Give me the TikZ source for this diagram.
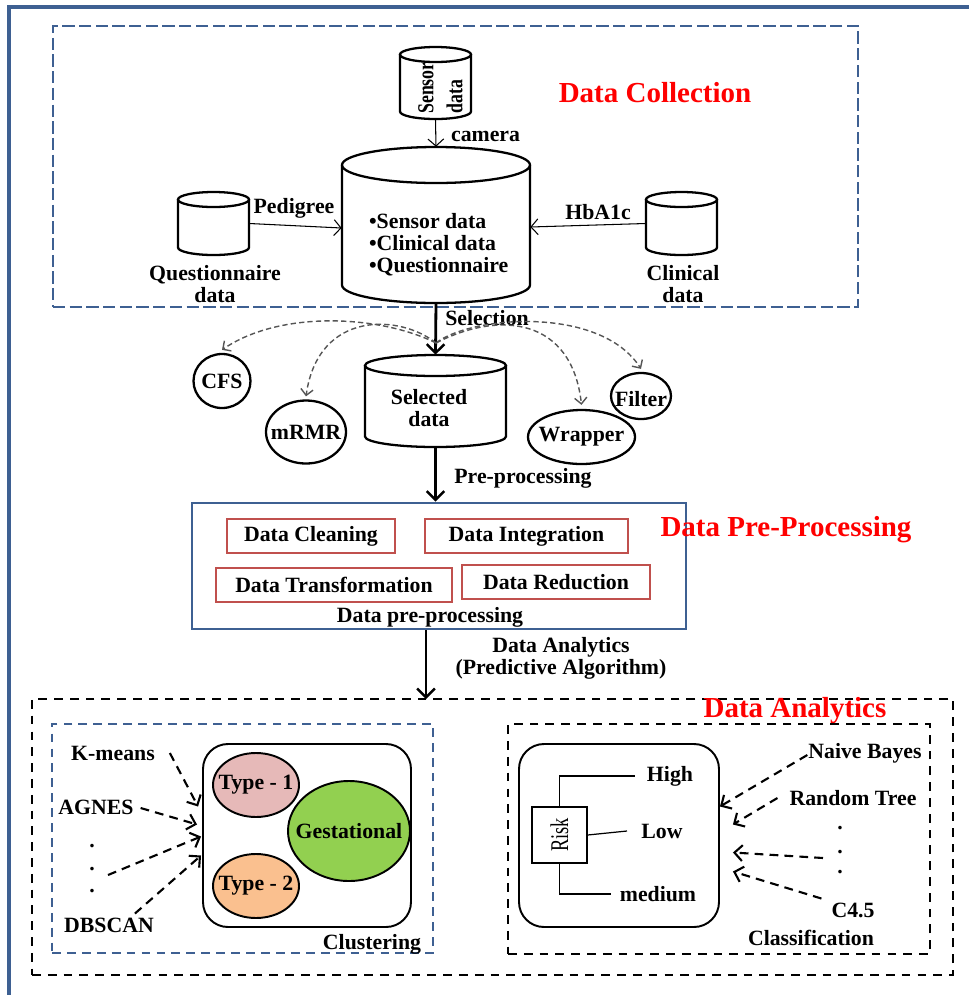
\documentclass[tikz,border=0pt]{standalone}
\usepackage{fontspec}
\setmainfont{Liberation Serif}
\usetikzlibrary{arrows.meta,shapes.geometric,calc}

\definecolor{frameblue}{RGB}{62,96,146}
\definecolor{boxred}{RGB}{192,80,77}
\definecolor{typeone}{RGB}{230,185,184}
\definecolor{typetwo}{RGB}{250,192,143}
\definecolor{gest}{RGB}{146,208,80}
\definecolor{curvegrey}{RGB}{85,85,85}

\newcommand\bodyfont{\fontsize{12.4}{12.6}\selectfont\bfseries}

% database cylinder: name, centre x, centre y, half width, half height, cap radius
\newcommand\dbcyl[6]{%
  \node[cylframe, minimum width=#4*0.04cm, minimum height=#5*0.04cm] (#1) at (#2,#3) {};
  \draw[cylline] (#2-#4,#3-#5+#6) -- (#2-#4,#3+#5-#6)
     arc[start angle=180,end angle=0,x radius=#4,y radius=#6] -- (#2+#4,#3-#5+#6);
  \draw[cylline] (#2,#3-#5+#6) ellipse[x radius=#4,y radius=#6];
}

\tikzset{
  lbl/.style={font=\bodyfont, inner sep=1pt},
  title/.style={font=\fontsize{16.5}{18}\selectfont\bfseries, text=red, inner sep=0pt},
  cylframe/.style={rectangle, draw=none, inner sep=0pt},
  cylline/.style={line width=1.3pt},
  frameline/.style={draw=frameblue, line width=2pt},
  collbox/.style={rectangle, draw=frameblue, line width=1.6pt, dash pattern=on 7pt off 2.5pt, inner sep=0pt},
  thinarrow/.style={line width=0.6pt, -{Straight Barb[length=4pt,width=9pt]}},
  thickarrow/.style={line width=1.6pt, -{Straight Barb[length=5pt,width=10pt,line width=1.4pt]}},
  selcurve/.style={curvegrey, line width=0.8pt, dash pattern=on 3pt off 1.8pt, -{Straight Barb[length=3.5pt,width=7pt]}},
  oval/.style={ellipse, draw, line width=1.3pt, inner sep=0pt},
  prefr/.style={rectangle, draw=frameblue, line width=1.6pt, inner sep=0pt},
  stepbox/.style={rectangle, draw=boxred, line width=1.6pt, inner sep=0pt, font=\bodyfont},
  blackdash/.style={rectangle, draw, line width=1.4pt, dash pattern=on 5pt off 4pt, inner sep=0pt},
  bluedash/.style={rectangle, draw=frameblue, line width=1.1pt, dash pattern=on 5pt off 3.5pt, inner sep=0pt},
  roundbox/.style={rectangle, draw, line width=1.1pt, rounded corners=0.5cm, inner sep=0pt},
  blob/.style={ellipse, draw, line width=1.1pt, inner sep=0pt},
  algarrow/.style={line width=1.2pt, dash pattern=on 5pt off 3.5pt, -{Straight Barb[length=4.5pt,width=9pt]}},
  riskline/.style={line width=0.7pt},
  dotmark/.style={font=\bodyfont, inner sep=0pt}
}

\begin{document}
\begin{tikzpicture}[x=0.02cm,y=-0.02cm]
\useasboundingbox (0,0) rectangle (969,995);

% outer frame
\draw[frameline] (9,995) -- (9,7) -- (969,7);

%% ---------------- data collection ----------------
\node[collbox, minimum width=805*0.02cm, minimum height=281*0.02cm] (collect) at (455.5,166.5) {};
\node[title] (tcollect) at (655,93) {Data Collection};

\dbcyl{sensor}{435.5}{83}{35.5}{36}{7.5}
\node[inner sep=0pt, rotate=90] (sensortxt) at (442,88)
  {\fontsize{13}{16.6}\selectfont\bfseries\scalebox{0.78}[1]{\begin{tabular}{@{}l@{}}Sensor\\data\end{tabular}}};

\dbcyl{main}{436}{225}{94}{78}{18}
\node[lbl, align=left, anchor=west] (maintxt) at (367,245) {•Sensor data\\•Clinical data\\•Questionnaire};

\dbcyl{qcyl}{213.5}{223.5}{35.5}{31.5}{7.5}
\node[lbl, align=center] (qtxt) at (215,284) {Questionnaire\\data};

\dbcyl{ccyl}{681.5}{223.5}{35.5}{31.5}{7.5}
\node[lbl, align=center] (ctxt) at (683,284) {Clinical\\data};

\draw[thinarrow] (sensor.south) -- (main.north);
\node[lbl, anchor=west] (camera) at (449,136) {camera};
\draw[thinarrow] (qcyl.east) -- ($(main.west)+(0,3)$);
\node[lbl] (pedigree) at (294,208) {Pedigree};
\draw[thinarrow] (ccyl.west) -- ($(main.east)+(0,2)$);
\node[lbl] (hba) at (598,212) {HbA1c};

%% ---------------- feature selection ----------------
\dbcyl{selcyl}{435.5}{401}{70.5}{46}{10.5}
\node[lbl, align=center] (seltxt) at (429,408) {Selected\\data};
\draw[thickarrow] (main.south) -- (selcyl.north);
\node[lbl] (seltag) at (487,318) {Selection};

\node[oval, minimum width=57*0.02cm, minimum height=54*0.02cm, label={[lbl]center:CFS}] (cfs) at (222,381) {};
\node[oval, minimum width=80*0.02cm, minimum height=63*0.02cm, label={[lbl]center:mRMR}] (mrmr) at (306,432) {};
\node[oval, minimum width=107*0.02cm, minimum height=54*0.02cm, label={[lbl]center:Wrapper}] (wrapper) at (581.5,437) {};
\node[oval, minimum width=60*0.02cm, minimum height=46*0.02cm, label={[lbl, yshift=-2pt]center:Filter}] (filter) at (641,396) {};

\coordinate (fork) at (436,343);
\draw[selcurve] (fork) .. controls (380,315) and (280,310) .. ($(cfs.north)+(0,-3)$);
\draw[selcurve] (fork) .. controls (400,314) and (318,310) .. ($(mrmr.north)+(0,-3)$);
\draw[selcurve] (fork) .. controls (500,310) and (572,318) .. ($(wrapper.north)+(0,-4)$);
\draw[selcurve] (fork) .. controls (470,316) and (600,305) .. ($(filter.north)+(0,-3)$);

%% ---------------- pre-processing ----------------
\node[prefr, minimum width=494*0.02cm, minimum height=126*0.02cm] (prebox) at (439,566) {};
\node[stepbox, minimum width=168*0.02cm, minimum height=34*0.02cm] (clean) at (311,536) {Data Cleaning};
\node[stepbox, minimum width=203*0.02cm, minimum height=34*0.02cm] (integ) at (526.5,536) {Data Integration};
\node[stepbox, minimum width=236*0.02cm, minimum height=34*0.02cm] (trans) at (334,585) {Data Transformation};
\node[stepbox, minimum width=188*0.02cm, minimum height=34*0.02cm] (reduc) at (556,582) {Data Reduction};
\node[lbl] (pretag) at (430,617) {Data pre-processing};
\node[title] (tpre) at (786,530) {Data Pre-Processing};

\draw[thickarrow] (selcyl.south) -- (selcyl.south |- prebox.north);
\node[lbl] (pptag) at (523,478) {Pre-processing};

\coordinate (anain) at (426,699);
\draw[thickarrow] (anain |- prebox.south) -- (anain);
\node[lbl, align=center] (datag) at (561,658) {Data Analytics\\(Predictive Algorithm)};

%% ---------------- data analytics ----------------
\node[blackdash, minimum width=921*0.02cm, minimum height=276*0.02cm] (anabox) at (492.5,837) {};
\node[title] (tana) at (795,711) {Data Analytics};

% clustering
\node[bluedash, minimum width=381*0.02cm, minimum height=229*0.02cm] (clusbox) at (242.5,838.5) {};
\node[roundbox, minimum width=208*0.02cm, minimum height=183*0.02cm] (clusround) at (307,835.5) {};
\node[blob, fill=typeone, minimum width=86*0.02cm, minimum height=64*0.02cm, label={[lbl]center:Type - 1}] (type1) at (256,785) {};
\node[blob, fill=typetwo, minimum width=86*0.02cm, minimum height=64*0.02cm, label={[lbl]center:Type - 2}] (type2) at (256,886) {};
\node[blob, fill=gest, minimum width=122*0.02cm, minimum height=100*0.02cm, label={[lbl]center:Gestational}] (gestnode) at (349,831) {};

\node[lbl] (kmeans) at (113,753) {K-means};
\node[lbl] (agnes) at (96,807) {AGNES};
\node[dotmark] (ldot1) at (92,846) {.};
\node[dotmark] (ldot2) at (92,869) {.};
\node[dotmark] (ldot3) at (92,891) {.};
\node[lbl] (dbscan) at (109,925) {DBSCAN};
\node[lbl] (clustag) at (372,944) {Clustering};

\draw[algarrow] ($(kmeans.east)+(13,0)$) -- ($(clusround.west)+(-4,-29)$);
\draw[algarrow] ($(agnes.east)+(5,1)$) -- ($(clusround.west)+(-5,-11)$);
\draw[algarrow] ($(ldot2)+(16,6)$) -- ($(clusround.west)+(-1,1)$);
\draw[algarrow] ($(dbscan.north east)+(-21,-2)$) -- ($(clusround.west)+(-1,20)$);

% classification
\node[blackdash, minimum width=422*0.02cm, minimum height=230*0.02cm] (classbox) at (719,839) {};
\node[roundbox, minimum width=200*0.02cm, minimum height=183*0.02cm] (classround) at (619,835.5) {};
\node[rectangle, draw, line width=0.8pt, inner sep=0pt, minimum width=55*0.02cm, minimum height=56*0.02cm] (riskbox) at (559.5,835) {};
\node[inner sep=0pt, rotate=90] (risktxt) at (559.5,835)
  {\fontsize{14.5}{15}\selectfont\scalebox{0.72}[1]{Risk}};

\node[lbl] (high) at (670,776) {High};
\node[lbl] (low) at (662,831) {Low};
\node[lbl] (medium) at (658,894) {medium};
\coordinate (highend) at (635,776);
\coordinate (lowend) at (627,831);
\coordinate (medend) at (611,894);
\draw[riskline] (riskbox.north) |- (highend);
\draw[riskline] (riskbox.east) -- (lowend);
\draw[riskline] (riskbox.south) |- (medend);

\node[lbl] (naive) at (865,753) {Naive Bayes};
\node[lbl] (rtree) at (853,798) {Random Tree};
\node[dotmark] (rdot1) at (840,828) {.};
\node[dotmark] (rdot2) at (840,852) {.};
\node[dotmark] (rdot3) at (840,872) {.};
\node[lbl] (c45) at (853,910) {C4.5};
\node[lbl] (classtag) at (811,938) {Classification};

\draw[algarrow] ($(naive.west)+(1,2)$) -- ($(classround.east)+(0,-29)$);
\draw[algarrow] ($(rtree.west)+(-10,0)$) -- ($(classround.east)+(13,-11)$);
\draw[algarrow] ($(rdot2)+(-17,6)$) -- ($(classround.east)+(13,17)$);
\draw[algarrow] ($(c45.north west)+(-8,-2)$) -- ($(classround.east)+(13,36)$);

\end{tikzpicture}
\end{document}
